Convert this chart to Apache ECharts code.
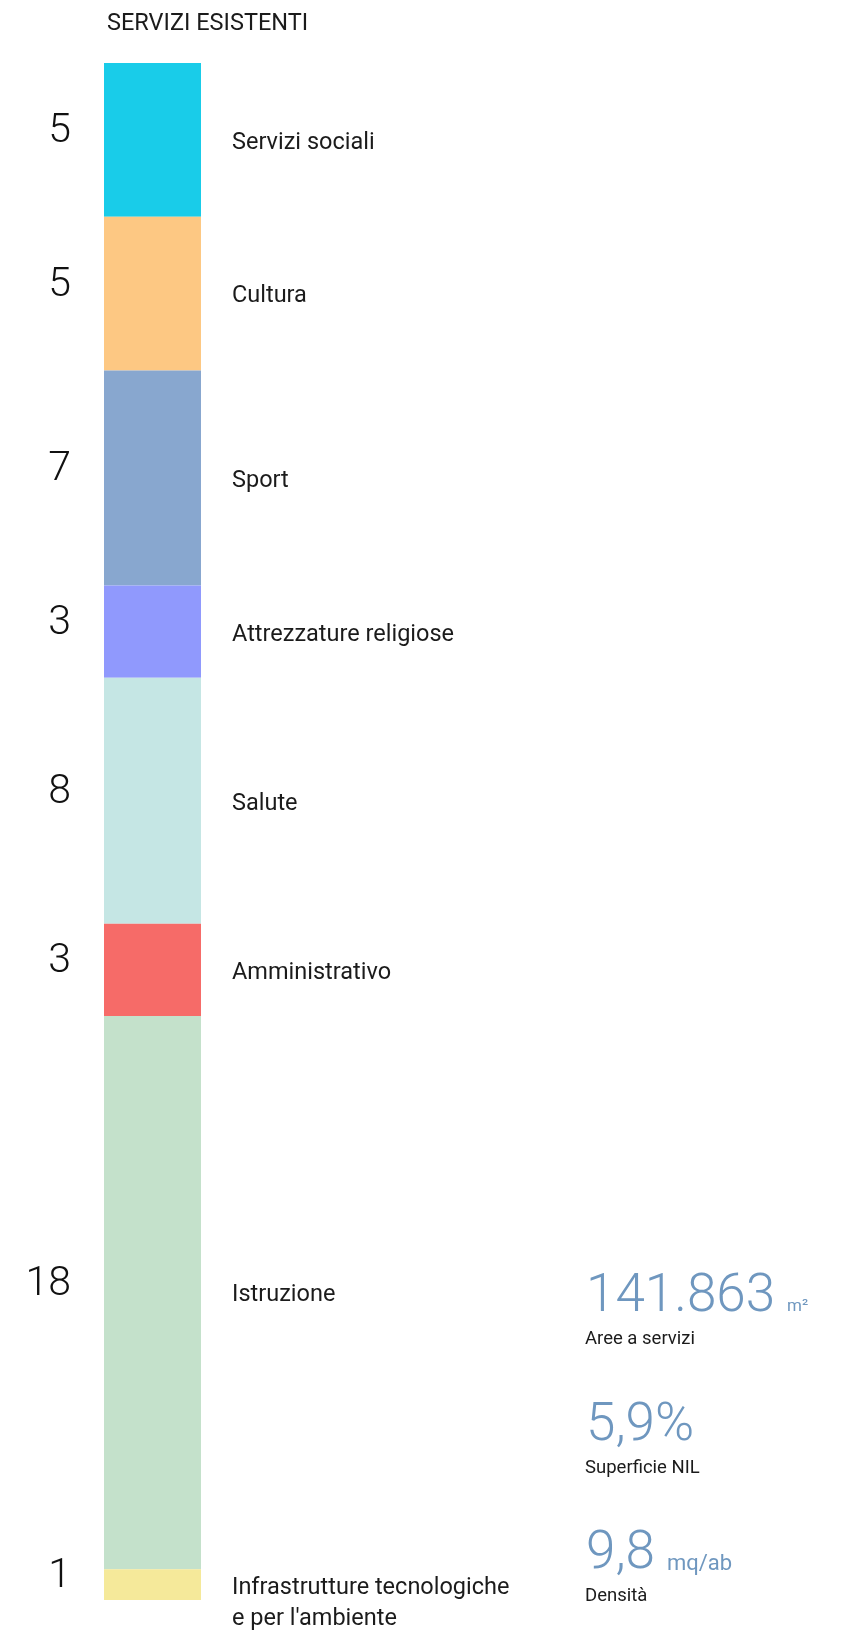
<!DOCTYPE html>
<html>
<head>
<meta charset="utf-8">
<script src="https://cdn.jsdelivr.net/npm/echarts@6/dist/echarts.min.js"></script>
<style>
  html, body { margin: 0; padding: 0; background: #ffffff; }
  #chart { width: 845px; height: 1634px; }
</style>
</head>
<body>
<div id="chart"></div>
<script>
const categories = ['Servizi sociali', 'Cultura', 'Sport', 'Attrezzature religiose', 'Salute', 'Amministrativo', 'Istruzione', "Infrastrutture tecnologiche\ne per l'ambiente"];
const counts = [5, 5, 7, 3, 8, 3, 18, 1];
const colors = ['#19CCE9', '#FDC883', '#88A7CF', '#9099FD', '#C5E6E4', '#F66B68', '#C4E1CB', '#F5E99A'];
const statValues = ['141.863', '5,9%', '9,8'];
const statUnits = ['m²', '', 'mq/ab'];
const statLabels = ['Aree a servizi', 'Superficie NIL', 'Densità'];

const total = counts.reduce((a, b) => a + b, 0);
let acc = 0;
const segData = counts.map((v, i) => {
  const s = acc; acc += v;
  return [0, s, acc, v, i];
});

const FONT = 'Roboto';
const TEXT = '#1b1b1b';
const BLUE = '#6F97BF';

const chart = echarts.init(document.getElementById('chart'), null, { renderer: 'canvas' });

const statTop = [1271, 1400, 1528];
const graphics = [];
statValues.forEach((v, i) => {
  graphics.push({
    type: 'text', left: 586, top: statTop[i],
    style: { text: v, font: '300 53px ' + FONT, fill: BLUE }
  });
  graphics.push({
    type: 'text', left: 585, top: statTop[i] + 59,
    style: { text: statLabels[i], font: '18.5px ' + FONT, fill: TEXT }
  });
});
graphics.push({ type: 'text', left: 787, top: statTop[0] + 27, style: { text: statUnits[0], font: '17px ' + FONT, fill: BLUE } });
graphics.push({ type: 'text', left: 667, top: statTop[2] + 25, style: { text: statUnits[2], font: '22px ' + FONT, fill: BLUE } });

chart.setOption({
  animation: false,
  backgroundColor: '#ffffff',
  title: {
    text: 'SERVIZI ESISTENTI',
    left: 102, top: 7,
    textStyle: { fontFamily: FONT, fontSize: 23.5, fontWeight: 'normal', color: TEXT }
  },
  grid: { left: 104, top: 63, width: 97, height: 1537 },
  xAxis: { type: 'category', data: [''], show: false },
  yAxis: { type: 'value', inverse: true, min: 0, max: total, show: false },
  graphic: graphics,
  series: [{
    type: 'custom',
    data: segData,
    encode: { x: 0, y: [1, 2] },
    renderItem: function (params, api) {
      const s = api.value(1), e = api.value(2), v = api.value(3), idx = api.value(4);
      const p0 = api.coord([0, s]);
      const p1 = api.coord([0, e]);
      const w = api.size([1, 0])[0];
      const x0 = p0[0] - w / 2;
      const cy = (p0[1] + p1[1]) / 2;
      return {
        type: 'group',
        children: [
          { type: 'rect', shape: { x: x0, y: p0[1], width: w, height: p1[1] - p0[1] }, style: { fill: colors[idx] } },
          { type: 'text', style: { x: x0 - 33, y: cy - 8, text: String(v), font: '300 41px ' + FONT, fill: '#111', align: 'right', verticalAlign: 'middle' } },
          { type: 'text', style: { x: x0 + w + 31, y: cy - 12.5, text: categories[idx], font: '23.5px ' + FONT, lineHeight: 31, fill: TEXT, align: 'left', verticalAlign: 'top' } }
        ]
      };
    }
  }]
});
</script>
</body>
</html>
